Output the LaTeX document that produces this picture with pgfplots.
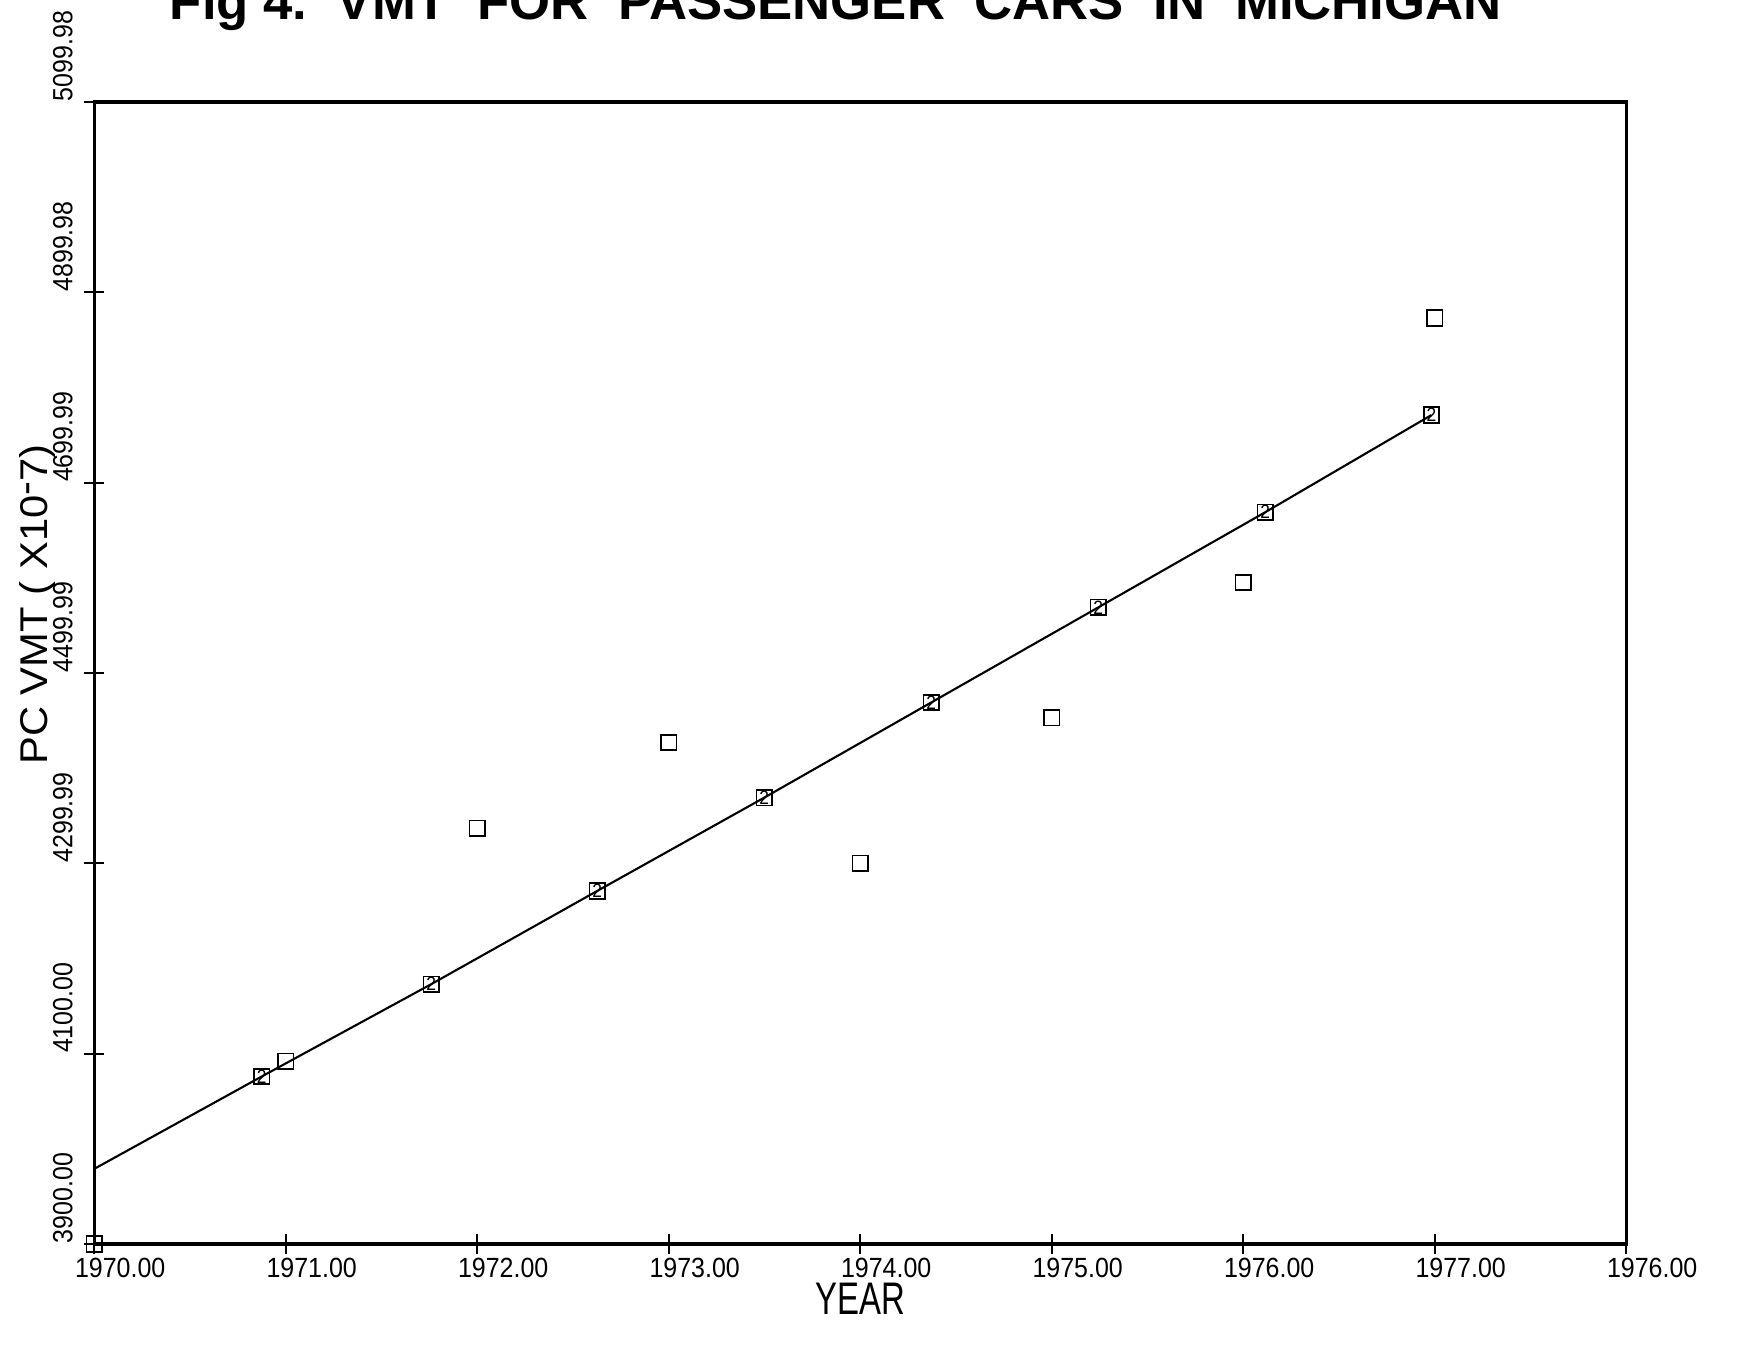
\documentclass[border=0pt]{standalone}
\usepackage{fontspec}
\setmainfont{Liberation Sans}
\newfontfamily\tickfont[FakeStretch=0.9]{Liberation Sans}
\newfontfamily\labfont[FakeStretch=0.72]{Liberation Sans}
\newfontfamily\ylabfont[FakeStretch=1.08]{Liberation Sans}
\usepackage{pgfplots}
\pgfplotsset{compat=1.18}
\pgfplotstableread{
x y
1970 3900
1971 4092
1972 4337
1973 4427
1974 4300
1975 4453
1976 4595
1977 4873
}\observed
\pgfplotstableread{
x y
1970.874 4076
1971.759 4173
1972.626 4271
1973.498 4369
1974.370 4469
1975.243 4569
1976.115 4669
1976.982 4771
}\fitted
\pgfplotstableread{
x y
1970.000 3979
1970.874 4076
1971.759 4173
1972.626 4271
1973.498 4369
1974.370 4469
1975.243 4569
1976.115 4669
1976.982 4771
}\fitline
\begin{document}
\begin{tikzpicture}
\begin{axis}[
  scale only axis, width=153.2mm, height=114.2mm,
  xmin=1970, xmax=1978, ymin=3900, ymax=5100,
  xtick={1970,1971,1972,1973,1974,1975,1976,1977,1978},
  xticklabels={1970.00,1971.00,1972.00,1973.00,1974.00,1975.00,1976.00,1977.00,1976.00},
  ytick={3900,4100,4300,4500,4700,4900,5100},
  yticklabels={3900.00,4100.00,4299.99,4499.99,4699.99,4899.98,5099.98},
  xtick pos=bottom, ytick pos=left, tick align=center, major tick length=2mm,
  tick style={black, line width=0.5pt},
  axis line style={line width=1pt},
  xticklabel style={font=\tickfont\fontsize{7.9}{8}\selectfont, anchor=north west, xshift=-2mm, yshift=-0.3mm, inner sep=0pt},
  yticklabel style={font=\tickfont\fontsize{7.9}{8}\selectfont, rotate=90, anchor=south west, inner sep=0pt},
  yticklabel shift=1.1mm,
  xlabel={YEAR},
  xlabel style={font=\labfont\fontsize{13}{13}\selectfont, at={(axis description cs:0.5,-0.048)}, anchor=center},
  ylabel={PC VMT ( X10\raisebox{0.45ex}{-}7)},
  ylabel style={font=\ylabfont\fontsize{11}{11}\selectfont, at={(axis description cs:-0.0372,0.56)}, anchor=center},
  title={Fig 4.\ \ VMT\ \ FOR\ \ PASSENGER\ \ CARS\ \ IN\ \ MICHIGAN},
  title style={at={(axis description cs:0.484,1)}, anchor=base, yshift=6.1mm, font=\bfseries\fontsize{15}{15}\selectfont},
  clip=false,
]
\coordinate (O) at (rel axis cs:0,0);
\addplot[black, line width=0.6pt, no marks] table {\fitline};
\addplot[only marks, mark=square, mark size=2.2pt, mark options={black, line width=0.5pt}] table {\observed};
\addplot[only marks, mark=square, mark size=2.2pt, mark options={black, line width=0.5pt},
  nodes near coords={2}, every node near coord/.append style={anchor=center, inner sep=0pt, font=\tickfont\fontsize{5.5}{5.5}\selectfont}] table {\fitted};
\end{axis}
\pgfresetboundingbox
\path[use as bounding box] ([shift={(-9.43mm,-10mm)}]O) rectangle ++(173.9mm,134.4mm);
\end{tikzpicture}
\end{document}
